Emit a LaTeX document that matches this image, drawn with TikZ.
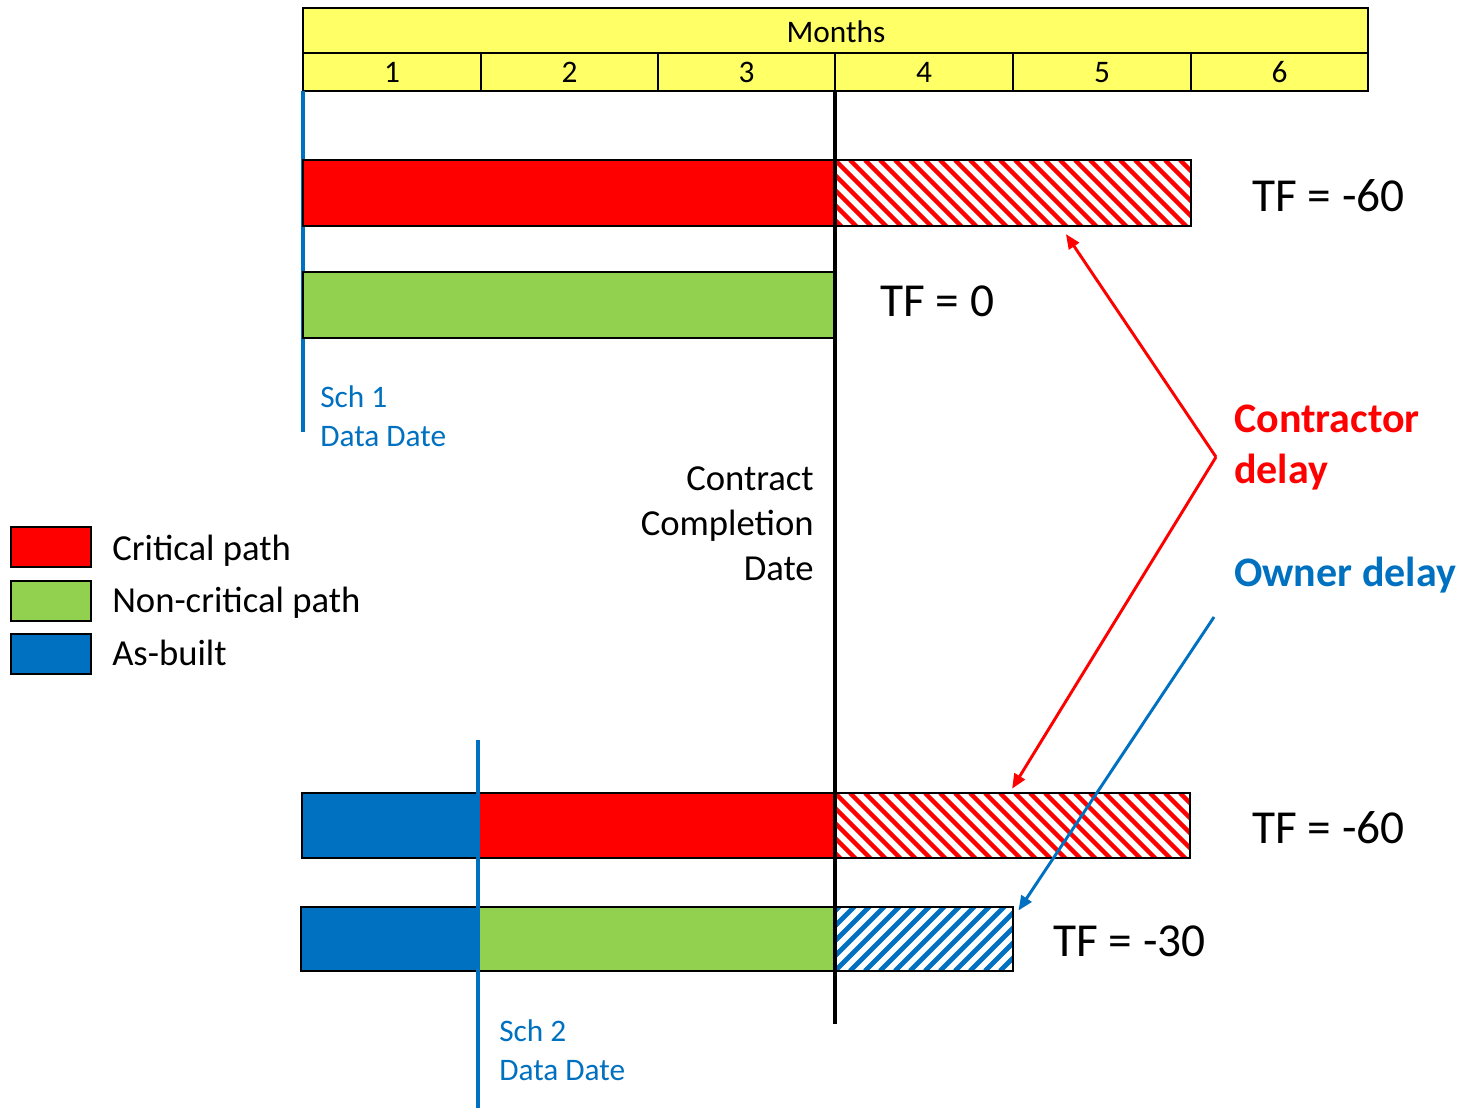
\documentclass[tikz,border=0pt]{standalone}
\usepackage{fontspec}
\setmainfont{Carlito}
\usetikzlibrary{fit,calc,arrows.meta}
\definecolor{hdr}{RGB}{255,255,102}
\definecolor{cpred}{RGB}{255,0,0}
\definecolor{ncgreen}{RGB}{146,208,80}
\definecolor{abblue}{RGB}{0,112,192}
\newcommand\hatchNW[5]{%
  \begin{scope}
    \clip (#1,#2) rectangle (#3,#4);
    \foreach \k in {-90,-75,...,375} \draw[#5, line width=3.4pt] ({#1+\k},#2) -- ++(80,80);
  \end{scope}}
\newcommand\hatchNE[5]{%
  \begin{scope}
    \clip (#1,#2) rectangle (#3,#4);
    \foreach \k in {-90,-75,...,375} \draw[#5, line width=3.6pt] ({#1+\k},#4) -- ++(80,-80);
  \end{scope}}
\begin{document}
\begin{tikzpicture}[x=0.75pt,y=-0.75pt,
  cell/.style={draw=black, line width=2.2pt, inner sep=0pt, fill=hdr},
  bar/.style={draw=black, line width=2.2pt, inner sep=0pt},
  hbox/.style={draw=black, line width=2.2pt, inner sep=0pt},
  hdrtxt/.style={font=\fontsize{23.5}{28}\selectfont, inner sep=0pt, anchor=base},
  tftxt/.style={font=\fontsize{35.5}{42}\selectfont, inner sep=0pt, anchor=base west},
  legtxt/.style={font=\fontsize{27.5}{33}\selectfont, inner sep=0pt, anchor=base west},
  cctxt/.style={font=\fontsize{27.5}{33}\selectfont, inner sep=0pt, anchor=base east},
  schtxt/.style={font=\fontsize{23.5}{28}\selectfont, text=abblue, inner sep=0pt, anchor=base west},
  delaytxt/.style={font=\fontsize{31.5}{38}\selectfont\bfseries, inner sep=0pt, anchor=base west},
  arr/.style={line width=2.2pt, -{Triangle[length=11pt,width=9pt]}},
]
\useasboundingbox (0,0) rectangle (1465,1110);

% header
\node[cell, fit={(303,8)(1368,53)}] (months) {};
\node[hdrtxt] (monthstxt) at (836,42) {Months};
\foreach \i/\a/\b in {1/303/481,2/481/658,3/658/835,4/835/1013,5/1013/1191,6/1191/1368}{
  \node[cell, fit={(\a,53)(\b,91)}] (m\i) {};
  \node[hdrtxt] (m\i txt) at ({(\a+\b)/2},82) {\i};
}

% data date line Sch 1
\coordinate (s1top) at (303,91);
\coordinate (s1bot) at (303,432);
\draw[abblue, line width=2.3pt] (s1top) -- (s1bot);

% schedule 1 bars
\node[bar, fill=cpred, fit={(303,160)(835,226)}] (r1) {};
\hatchNW{835}{160}{1191}{226}{cpred}
\node[hbox, fit={(835,160)(1191,226)}] (h1) {};
\node[bar, fill=ncgreen, fit={(303,272)(835,338)}] (g1) {};

% schedule 2 bars
\node[bar, fill=abblue, fit={(302,793)(478,858)}] (b3) {};
\node[bar, fill=cpred, fit={(478,793)(835,858)}] (r3) {};
\hatchNW{835}{793}{1190}{858}{cpred}
\node[hbox, fit={(835,793)(1190,858)}] (h3) {};
\node[bar, fill=abblue, fit={(301,907)(478,971)}] (b4) {};
\node[bar, fill=ncgreen, fit={(478,907)(835,971)}] (g4) {};
\hatchNE{835}{907}{1013}{971}{abblue}
\node[hbox, fit={(835,907)(1013,971)}] (h4) {};

% contract completion line
\coordinate (cctop) at (835,91);
\coordinate (ccbot) at (835,1024);
\draw[black, line width=2.3pt] (cctop) -- (ccbot);

% data date line Sch 2
\coordinate (s2top) at (478,740);
\coordinate (s2bot) at (478,1108);
\draw[abblue, line width=2.3pt] (s2top) -- (s2bot);

% TF labels
\node[tftxt] (tf1) at (1252,211) {TF = -60};
\node[tftxt] (tf2) at (880,316) {TF = 0};
\node[tftxt] (tf3) at (1252,843) {TF = -60};
\node[tftxt] (tf4) at (1053,956) {TF = -30};

% Sch labels
\node[schtxt] (sch1a) at (320,407) {Sch 1};
\node[schtxt] (sch1b) at (320,446) {Data Date};
\node[schtxt] (sch2a) at (499,1041) {Sch 2};
\node[schtxt] (sch2b) at (499,1080) {Data Date};

% contract completion date
\node[cctxt] (cc1) at (814,490) {Contract};
\node[cctxt] (cc2) at (814,535) {Completion};
\node[cctxt] (cc3) at (814,580) {Date};

% legend
\node[bar, fill=cpred, fit={(11,527)(91,567)}] (lg1) {};
\node[bar, fill=ncgreen, fit={(11,581)(91,621)}] (lg2) {};
\node[bar, fill=abblue, fit={(11,634)(91,674)}] (lg3) {};
\node[legtxt] (lt1) at (112,560) {Critical path};
\node[legtxt] (lt2) at (112,612) {Non-critical path};
\node[legtxt] (lt3) at (112,665) {As-built};

% delay labels
\node[delaytxt, text=cpred] (cd1) at (1234,432) {Contractor};
\node[delaytxt, text=cpred] (cd2) at (1234,483) {delay};
\node[delaytxt, text=abblue] (od) at (1234,586) {Owner delay};

% arrows
\coordinate (cv) at (1216,457);
\coordinate (ov) at (1214,617);
\draw[arr, cpred, shorten >=6pt] (cv) -- ($(h1.south west)!0.635!(h1.south east)$);
\draw[arr, cpred, shorten >=2.5pt] (cv) -- ($(h3.north west)!0.494!(h3.north east)$);
\draw[arr, abblue] (ov) -- ($(h4.north east)+(4,5)$);
\end{tikzpicture}
\end{document}
